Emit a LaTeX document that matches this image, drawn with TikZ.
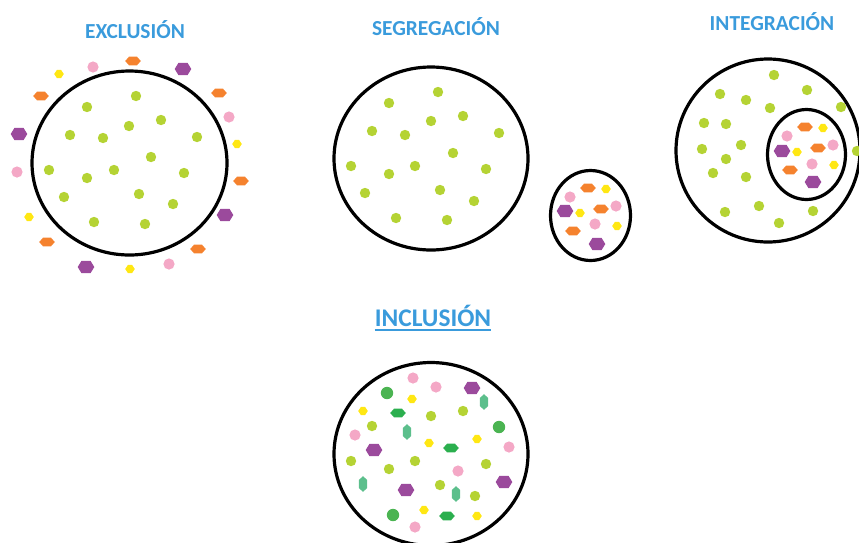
\documentclass[tikz,border=0pt]{standalone}
\usepackage{fontspec}
\setmainfont{Carlito}
\usepackage{xcolor}
\definecolor{TitleBlue}{HTML}{3A9BDC}
\definecolor{DotLime}{HTML}{B5D334}
\definecolor{DotPink}{HTML}{F4A8C6}
\definecolor{DotYellow}{HTML}{FFE713}
\definecolor{DotOrange}{HTML}{F5822E}
\definecolor{DotPurple}{HTML}{9B4A9C}
\definecolor{DotGreen}{HTML}{4BB452}
\definecolor{DotJade}{HTML}{2BAF4E}
\definecolor{DotTeal}{HTML}{5CBF8C}
\usetikzlibrary{positioning}

\begin{document}
\begin{tikzpicture}[
  x=1pt, y=-1pt,
  title/.style={text=TitleBlue, font=\fontsize{21.4}{24}\selectfont\bfseries,
                inner sep=0pt},
  ring/.style={draw=black, line width=3.2pt},
  limedot/.pic={\fill[DotLime] (0,0) circle (5.2);},
  pinkdot/.pic={\fill[DotPink] (0,0) circle (5.6);},
  greendot/.pic={\fill[DotGreen] (0,0) circle (6.2);},
  yellowgem/.pic={\fill[DotYellow] (-4.8,0) -- (-2,-4.2) -- (2,-4.2) -- (4.8,0) -- (2,4.2) -- (-2,4.2) -- cycle;},
  orangehex/.pic={\fill[DotOrange] (-7.8,0) -- (-4,-4.3) -- (4,-4.3) -- (7.8,0) -- (4,4.3) -- (-4,4.3) -- cycle;},
  jadehex/.pic={\fill[DotJade] (-7.8,0) -- (-4,-4.3) -- (4,-4.3) -- (7.8,0) -- (4,4.3) -- (-4,4.3) -- cycle;},
  tealhex/.pic={\fill[DotTeal] (0,-7.8) -- (4.2,-4) -- (4.2,4) -- (0,7.8) -- (-4.2,4) -- (-4.2,-4) -- cycle;},
  purplehex/.pic={\fill[DotPurple] (-8.3,0) -- (-4.5,-6.2) -- (4.5,-6.2) -- (8.3,0) -- (4.5,6.2) -- (-4.5,6.2) -- cycle;},
]
\useasboundingbox (0,0) rectangle (859,542);
\clip (0,0) rectangle (859,542);

% exclusion
\node[title] (exclusion) at (135,30) {EXCLUSIÓN};
\draw[ring] (129.5,163) ellipse [x radius=97.5, y radius=92];
\foreach \p in {(136,96),(87,107),(161,120),(129,126),(70,135),(103,138),
  (197,137),(151,157),(49,170),(114,170),(87,178),(184,173),(64,197),
  (139,194),(173,204),(94,222),(145,224)}
  \pic at \p {limedot};
\foreach \p in {(133,61),(41,96),(219,93),(241,181),(47,242),(198,249)}
  \pic at \p {orangehex};
\foreach \p in {(93,67),(229,117),(17,172),(169,264)}
  \pic at \p {pinkdot};
\foreach \p in {(59,74),(237,144),(29,217),(130,269)}
  \pic at \p {yellowgem};
\foreach \p in {(183,69),(19,134),(225,215),(86,267)}
  \pic at \p {purplehex};

% segregation
\node[title] (segregation) at (436,27) {SEGREGACIÓN};
\draw[ring] (431,158.5) ellipse [x radius=97, y radius=91.5];
\draw[ring] (590.5,215.5) ellipse [x radius=40, y radius=45];
\foreach \p in {(438,92),(389,103),(463,116),(431,121),(372,131),(405,135),
  (499,133),(453,153),(351,166),(415,166),(389,174),(486,169),(365,193),
  (440,190),(474,201),(396,218),(447,220)}
  \pic at \p {limedot};
\foreach \p in {(588,188),(601,209),(573,231)}
  \pic at \p {orangehex};
\foreach \p in {(570,197),(616,206),(595,224)}
  \pic at \p {pinkdot};
\foreach \p in {(606,189),(580,213),(617,226)}
  \pic at \p {yellowgem};
\foreach \p in {(565,211),(597,244)}
  \pic at \p {purplehex};

% integration
\node[title] (integration) at (772,22) {INTEGRACIÓN};
\draw[ring] (768,150.5) ellipse [x radius=92, y radius=91.5];
\draw[ring] (806.5,154.5) ellipse [x radius=39, y radius=45];
\foreach \p in {(774,75),(720,94),(807,90),(746,100),(770,108),(841,107),
  (704,123),(726,124),(702,149),(741,145),(726,159),(713,173),(746,177),
  (857,151),(725,212),(759,206),(813,211),(779,223)}
  \pic at \p {limedot};
\foreach \p in {(805,127),(818,148),(790,170)}
  \pic at \p {orangehex};
\foreach \p in {(787,136),(833,145),(812,164)}
  \pic at \p {pinkdot};
\foreach \p in {(823,128),(797,152),(834,165)}
  \pic at \p {yellowgem};
\foreach \p in {(782,151),(813,182)}
  \pic at \p {purplehex};

% inclusion
\node[title, font=\fontsize{25.4}{28}\selectfont\bfseries] (inclusion) at (433,316) {INCLUSIÓN};
\draw[TitleBlue, line width=1.5pt] ([yshift=-3pt]inclusion.south west) -- ([yshift=-3pt]inclusion.south east);
\draw[ring] (431,454) ellipse [x radius=97, y radius=91.5];
\foreach \p in {(431,416),(463,411),(372,426),(351,461),(415,461),(389,469),
  (486,464),(440,485),(475,496)}
  \pic at \p {limedot};
\foreach \p in {(413,378),(436,387),(355,435),(509,447),(458,471),(415,527)}
  \pic at \p {pinkdot};
\foreach \p in {(412,399),(363,411),(429,443),(477,439),(424,510),(477,516)}
  \pic at \p {yellowgem};
\foreach \p in {(472,388),(374,450),(406,490),(504,482)}
  \pic at \p {purplehex};
\foreach \p in {(387,393),(499,427),(393,515)}
  \pic at \p {greendot};
\foreach \p in {(398,413),(451,448),(447,516)}
  \pic at \p {jadehex};
\foreach \p in {(484,402),(407,432),(363,484),(456,494)}
  \pic at \p {tealhex};
\end{tikzpicture}
\end{document}
